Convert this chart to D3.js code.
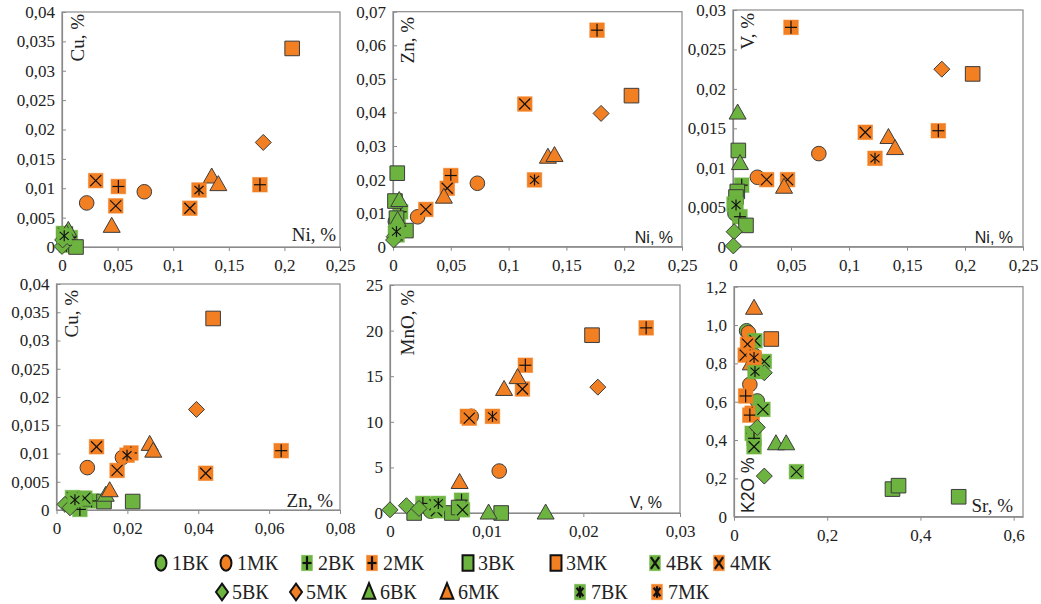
<!DOCTYPE html>
<html lang="ru">
<head>
<meta charset="utf-8">
<title>Ni, Cu, Zn, V, MnO, Sr, K2O</title>
<script src="https://cdnjs.cloudflare.com/ajax/libs/d3/7.8.5/d3.min.js"></script>
<style>
  body { margin: 0; background: #fff; }
  svg text { font-family: "Liberation Serif", "Times New Roman", Tinos, "DejaVu Serif", serif; fill: #222; }
  svg text.sans { font-family: "Liberation Sans", Arial, Arimo, "DejaVu Sans", sans-serif; }
</style>
</head>
<body>
<script>
// sample groups (drawing order = legend order)
var groups = ["1ВК","1МК","2ВК","2МК","3ВК","3МК","4ВК","4МК","5ВК","5МК","6ВК","6МК","7ВК","7МК"];

// points of each panel: [group, x, y]
var niCu = [
  ["3МК",0.207,0.0338], ["5МК",0.181,0.0178], ["6МК",0.1346,0.0120], ["6МК",0.1406,0.0107],
  ["2МК",0.178,0.0106], ["7МК",0.1232,0.0097], ["4МК",0.115,0.0066], ["4МК",0.0303,0.0113],
  ["2МК",0.0507,0.0103], ["1МК",0.074,0.0094], ["1МК",0.0222,0.0075], ["4МК",0.0483,0.0070],
  ["6МК",0.0447,0.0036],
  ["5ВК",0.000,0.0001], ["5ВК",0.0006,0.0012], ["3ВК",0.0126,0.0000], ["2ВК",0.004,0.0003],
  ["2ВК",0.0057,0.0009], ["1ВК",0.003,0.0014], ["3ВК",0.003,0.0022], ["3ВК",0.002,0.0015],
  ["4ВК",0.0012,0.0023], ["7ВК",0.002,0.0019], ["6ВК",0.0057,0.0029], ["6ВК",0.004,0.0024],
  ["4ВК",0.003,0.0017], ["2ВК",0.0075,0.0016]
];
var niZn = [
  ["2МК",0.1765,0.0645], ["3МК",0.2063,0.0450], ["5МК",0.180,0.0397], ["4МК",0.114,0.0425],
  ["6МК",0.134,0.0268], ["6МК",0.1397,0.0273], ["7МК",0.1224,0.0199], ["2МК",0.050,0.0212],
  ["1МК",0.073,0.0189], ["4МК",0.0469,0.0174], ["6МК",0.044,0.0149], ["4МК",0.0284,0.0111],
  ["1МК",0.0213,0.0089],
  ["3ВК",0.0037,0.0219], ["3ВК",0.0017,0.0136], ["6ВК",0.0054,0.0139], ["2ВК",0.0066,0.0104],
  ["3ВК",0.0112,0.0048], ["2ВК",0.0046,0.0060], ["3ВК",0.003,0.0085], ["1ВК",0.002,0.0075],
  ["6ВК",0.004,0.0080], ["4ВК",0.002,0.0040], ["7ВК",0.003,0.0045], ["5ВК",0.001,0.0030],
  ["5ВК",0.0005,0.0020], ["4ВК",0.0035,0.0035]
];
var niV = [
  ["2МК",0.050,0.0278], ["5МК",0.180,0.0225], ["3МК",0.2066,0.0219], ["2МК",0.177,0.0147],
  ["4МК",0.114,0.0145], ["6МК",0.134,0.0139], ["6МК",0.1397,0.0125], ["7МК",0.1224,0.0112],
  ["1МК",0.074,0.0118], ["1МК",0.021,0.0088], ["4МК",0.029,0.0085], ["4МК",0.047,0.0085],
  ["6МК",0.044,0.0076],
  ["6ВК",0.004,0.0170], ["3ВК",0.0046,0.0122], ["6ВК",0.006,0.0106], ["3ВК",0.0037,0.0070],
  ["3ВК",0.0026,0.0063], ["2ВК",0.0075,0.0078], ["4ВК",0.0009,0.0054], ["7ВК",0.0026,0.0053],
  ["1ВК",0.0017,0.0042], ["2ВК",0.006,0.0038], ["3ВК",0.0112,0.0027], ["5ВК",0.001,0.0019],
  ["5ВК",0.0003,0.0001]
];
var znCu = [
  ["3МК",0.0442,0.0339], ["5МК",0.0395,0.0178], ["6МК",0.0263,0.0117], ["6МК",0.0273,0.0105],
  ["2МК",0.0634,0.0105], ["4МК",0.0421,0.0065], ["4МК",0.0113,0.0112], ["7МК",0.0199,0.0097],
  ["1МК",0.0186,0.0093], ["2МК",0.021,0.0101], ["1МК",0.0087,0.0075], ["4МК",0.0171,0.0070],
  ["6МК",0.0150,0.0035],
  ["3ВК",0.0215,0.0015], ["6ВК",0.0139,0.0027], ["3ВК",0.0134,0.0015], ["2ВК",0.0099,0.0016],
  ["2ВК",0.0066,0.0001], ["4ВК",0.0080,0.0021], ["7ВК",0.0052,0.0018], ["4ВК",0.0045,0.0022],
  ["5ВК",0.0024,0.0010], ["5ВК",0.0038,0.0004], ["1ВК",0.0035,0.0012], ["3ВК",0.0075,0.0020]
];
var vMnO = [
  ["2МК",0.0265,20.3], ["3МК",0.0209,19.5], ["5МК",0.0215,13.8], ["2МК",0.0140,16.2],
  ["4МК",0.0137,13.6], ["6МК",0.0132,14.9], ["6МК",0.0118,13.6], ["7МК",0.0106,10.6],
  ["1МК",0.0113,4.6], ["1МК",0.0084,10.6], ["4МК",0.0080,10.6], ["4МК",0.0082,10.4],
  ["6МК",0.0072,3.4],
  ["5ВК",0.0000,0.35], ["5ВК",0.0017,0.8], ["3ВК",0.0025,0.0], ["5ВК",0.0030,0.5],
  ["2ВК",0.0034,1.05], ["1ВК",0.0042,0.2], ["4ВК",0.0048,0.25], ["4ВК",0.00465,0.9],
  ["7ВК",0.0050,1.05], ["3ВК",0.0064,0.0], ["3ВК",0.0071,0.6], ["2ВК",0.0074,1.4],
  ["4ВК",0.0075,0.35], ["6ВК",0.0102,0.05], ["3ВК",0.0115,0.0], ["6ВК",0.0161,0.05]
];
var srK2O = [
  ["6МК",0.043,1.09], ["1МК",0.031,0.96], ["3МК",0.080,0.927], ["4МК",0.029,0.90],
  ["4МК",0.024,0.843], ["7МК",0.043,0.83], ["6МК",0.036,0.80], ["1МК",0.034,0.69],
  ["2МК",0.025,0.63], ["2МК",0.039,0.54], ["2МК",0.034,0.53],
  ["1ВК",0.027,0.97], ["4ВК",0.045,0.918], ["1ВК",0.043,0.843], ["4ВК",0.065,0.81],
  ["7ВК",0.045,0.757], ["5ВК",0.065,0.751], ["1ВК",0.050,0.604], ["4ВК",0.062,0.56],
  ["5ВК",0.050,0.466], ["2ВК",0.039,0.435], ["2ВК",0.043,0.409], ["4ВК",0.043,0.365],
  ["6ВК",0.090,0.383], ["6ВК",0.112,0.383], ["4ВК",0.134,0.235], ["5ВК",0.065,0.212],
  ["3ВК",0.340,0.144], ["3ВК",0.353,0.162], ["3ВК",0.482,0.104]
];

// tick values and labels
var niTicks = [0,0.05,0.1,0.15,0.2,0.25],  niLabels = ["0","0,05","0,1","0,15","0,2","0,25"];
var cuTicks = [0,0.005,0.01,0.015,0.02,0.025,0.03,0.035,0.04];
var cuLabels = ["0","0,005","0,01","0,015","0,02","0,025","0,03","0,035","0,04"];
var znTicks = [0,0.01,0.02,0.03,0.04,0.05,0.06,0.07];
var znLabels = ["0","0,01","0,02","0,03","0,04","0,05","0,06","0,07"];
var vTicks = [0,0.005,0.01,0.015,0.02,0.025,0.03];
var vLabels = ["0","0,005","0,01","0,015","0,02","0,025","0,03"];
var znXTicks = [0,0.02,0.04,0.06,0.08], znXLabels = ["0","0,02","0,04","0,06","0,08"];
var vXTicks = [0,0.01,0.02,0.03], vXLabels = ["0","0,01","0,02","0,03"];
var mnoTicks = [0,5,10,15,20,25], mnoLabels = ["0","5","10","15","20","25"];
var srTicks = [0,0.2,0.4,0.6], srLabels = ["0","0,2","0,4","0,6"];
var k2oTicks = [0,0.2,0.4,0.6,0.8,1.0,1.2], k2oLabels = ["0","0,2","0,4","0,6","0,8","1,0","1,2"];

var GREEN = "#6db33f", ORANGE = "#f27f22", EDGE = "#3c3c3c", FRAME = "#8a8a8a";
var SERIF = "'Liberation Serif', 'Times New Roman', Tinos, 'DejaVu Serif', serif";

var panels = [
  {pts: niCu, xd: [0,0.25], yd: [0,0.04], xr: [62,340], yr: [247,12],
   xt: niTicks, xl: niLabels, yt: cuTicks, yl: cuLabels,
   yT: {t: "Cu, %", x: 84, y: 14}, xT: {t: "Ni, %", x: 336, y: 241}},
  {pts: niZn, xd: [0,0.25], yd: [0,0.07], xr: [393,682], yr: [246.7,11.7],
   xt: niTicks, xl: niLabels, yt: znTicks, yl: znLabels,
   yT: {t: "Zn, %", x: 414, y: 17}, xT: {t: "Ni, %", x: 673, y: 243, sans: true}},
  {pts: niV, xd: [0,0.25], yd: [0,0.03], xr: [733,1023], yr: [246.7,10],
   xt: niTicks, xl: niLabels, yt: vTicks, yl: vLabels,
   yT: {t: "V, %", x: 754, y: 13}, xT: {t: "Ni, %", x: 1013, y: 243, sans: true}},
  {pts: znCu, xd: [0,0.08], yd: [0,0.04], xr: [56.5,340], yr: [510,284],
   xt: znXTicks, xl: znXLabels, yt: cuTicks, yl: cuLabels,
   yT: {t: "Cu, %", x: 78, y: 290}, xT: {t: "Zn, %", x: 333, y: 507}},
  {pts: vMnO, xd: [0,0.03], yd: [0,25], xr: [390,680], yr: [513,285],
   xt: vXTicks, xl: vXLabels, yt: mnoTicks, yl: mnoLabels,
   yT: {t: "MnO, %", x: 414, y: 290}, xT: {t: "V, %", x: 662, y: 508, sans: true}},
  {pts: srK2O, xd: [0,0.62], yd: [0,1.2], xr: [734,1023], yr: [516.7,286.7],
   xt: srTicks, xl: srLabels, yt: k2oTicks, yl: k2oLabels,
   yT: {t: "K2O %", x: 754, y: 513, sans: true, start: true}, xT: {t: "Sr, %", x: 1013, y: 512}}
];

// legend layout: [group, symbol x, text x, row y]
var legendRows = [
  ["1ВК",161,172,563], ["1МК",226,237,563], ["2ВК",307,318,563], ["2МК",372,383,563],
  ["3ВК",468,478,563], ["3МК",556,566,563], ["4ВК",655,666,563], ["4МК",719,730,563],
  ["5ВК",222,232,592], ["5МК",296,306,592], ["6ВК",369,380,592], ["6МК",447,458,592],
  ["7ВК",580,591,592], ["7МК",657,668,592]
];

var svg = d3.select("body").append("svg")
    .attr("width", 1041)
    .attr("height", 604)
    .attr("font-family", SERIF);

// draws one symbol centred at 0,0 of group g
function marker(g, grp, lw) {
  var kind = +grp[0];
  var fill = grp.slice(1) === "ВК" ? GREEN : ORANGE;
  var line = function(x1, y1, x2, y2) {
    g.append("line").attr("x1", x1).attr("y1", y1).attr("x2", x2).attr("y2", y2)
      .attr("stroke", "#111").attr("stroke-width", lw.inner)
      .attr("vector-effect", "non-scaling-stroke");
  };
  if (kind === 1) {
    g.append("circle").attr("r", 7.3).attr("fill", fill)
      .attr("stroke", lw.edgeColor).attr("stroke-width", lw.edge).attr("vector-effect", "non-scaling-stroke");
  } else if (kind === 3) {
    g.append("rect").attr("x", -7.3).attr("y", -7.3).attr("width", 14.6).attr("height", 14.6)
      .attr("fill", fill).attr("stroke", lw.edgeColor).attr("stroke-width", lw.edge)
      .attr("vector-effect", "non-scaling-stroke");
  } else if (kind === 5) {
    g.append("path").attr("d", "M0,-8L8,0L0,8L-8,0Z").attr("fill", fill)
      .attr("stroke", lw.edgeColor).attr("stroke-width", lw.edge).attr("vector-effect", "non-scaling-stroke");
  } else if (kind === 6) {
    g.append("path").attr("d", "M0,-8.5L8.5,6.5L-8.5,6.5Z").attr("fill", fill)
      .attr("stroke", lw.edgeColor).attr("stroke-width", lw.edge).attr("vector-effect", "non-scaling-stroke");
  } else {
    g.append("rect").attr("x", -7.3).attr("y", -7.3).attr("width", 14.6).attr("height", 14.6)
      .attr("fill", fill).attr("stroke", fill).attr("stroke-opacity", 0.5).attr("stroke-width", 1);
    if (kind === 2) {
      line(-6, 0, 6, 0); line(0, -6.5, 0, 6.5);
    } else if (kind === 4) {
      line(-5.5, -5.5, 5.5, 5.5); line(-5.5, 5.5, 5.5, -5.5);
    } else {
      line(-4.5, -4, 4.5, 4); line(-4.5, 4, 4.5, -4); line(0, -5.5, 0, 5.5);
    }
  }
}

var plotStyle = {inner: 1.2, edge: 1, edgeColor: EDGE};
var legendStyle = {inner: 2.2, edge: 2, edgeColor: "#111"};

panels.forEach(function(p) {
  var x = d3.scaleLinear().domain(p.xd).range(p.xr);
  var y = d3.scaleLinear().domain(p.yd).range(p.yr);
  var g = svg.append("g");

  g.append("rect")
    .attr("x", p.xr[0]).attr("y", p.yr[1])
    .attr("width", p.xr[1] - p.xr[0]).attr("height", p.yr[0] - p.yr[1])
    .attr("fill", "none").attr("stroke", FRAME).attr("stroke-width", 1.2);

  var ax = g.append("g")
    .attr("transform", "translate(0," + p.yr[0] + ")")
    .call(d3.axisBottom(x).tickValues(p.xt)
      .tickFormat(function(d) { return p.xl[p.xt.indexOf(d)]; })
      .tickSizeInner(4).tickSizeOuter(0).tickPadding(8));
  var ay = g.append("g")
    .attr("transform", "translate(" + p.xr[0] + ",0)")
    .call(d3.axisLeft(y).tickValues(p.yt)
      .tickFormat(function(d) { return p.yl[p.yt.indexOf(d)]; })
      .tickSizeInner(-4).tickSizeOuter(0).tickPadding(7));
  [ax, ay].forEach(function(a) {
    a.attr("font-family", SERIF);
    a.select(".domain").attr("stroke", FRAME).attr("stroke-width", 1.2);
    a.selectAll(".tick line").attr("stroke", FRAME);
    a.selectAll(".tick text").attr("font-size", 17).attr("fill", "#222");
  });

  // axis titles
  g.append("text")
    .attr("class", p.yT.sans ? "sans" : null)
    .attr("transform", "translate(" + p.yT.x + "," + p.yT.y + ") rotate(-90)")
    .attr("text-anchor", p.yT.start ? "start" : "end")
    .attr("font-size", p.yT.sans ? 17.5 : 19)
    .text(p.yT.t);
  g.append("text")
    .attr("class", p.xT.sans ? "sans" : null)
    .attr("x", p.xT.x).attr("y", p.xT.y)
    .attr("text-anchor", "end")
    .attr("font-size", p.xT.sans ? 16 : 19)
    .text(p.xT.t);

  var pts = p.pts.slice().sort(function(a, b) {
    return groups.indexOf(a[0]) - groups.indexOf(b[0]);
  });
  pts.forEach(function(d) {
    var m = g.append("g").attr("transform", "translate(" + x(d[1]) + "," + y(d[2]) + ")");
    marker(m, d[0], plotStyle);
  });
});

// legend
var lg = svg.append("g");
legendRows.forEach(function(r) {
  var m = lg.append("g").attr("transform", "translate(" + r[1] + "," + r[3] + ") scale(0.75,1.05)");
  marker(m, r[0], legendStyle);
  lg.append("text")
    .attr("x", r[2]).attr("y", r[3] + 7)
    .attr("font-size", 20)
    .text(r[0]);
});
</script>
</body>
</html>
